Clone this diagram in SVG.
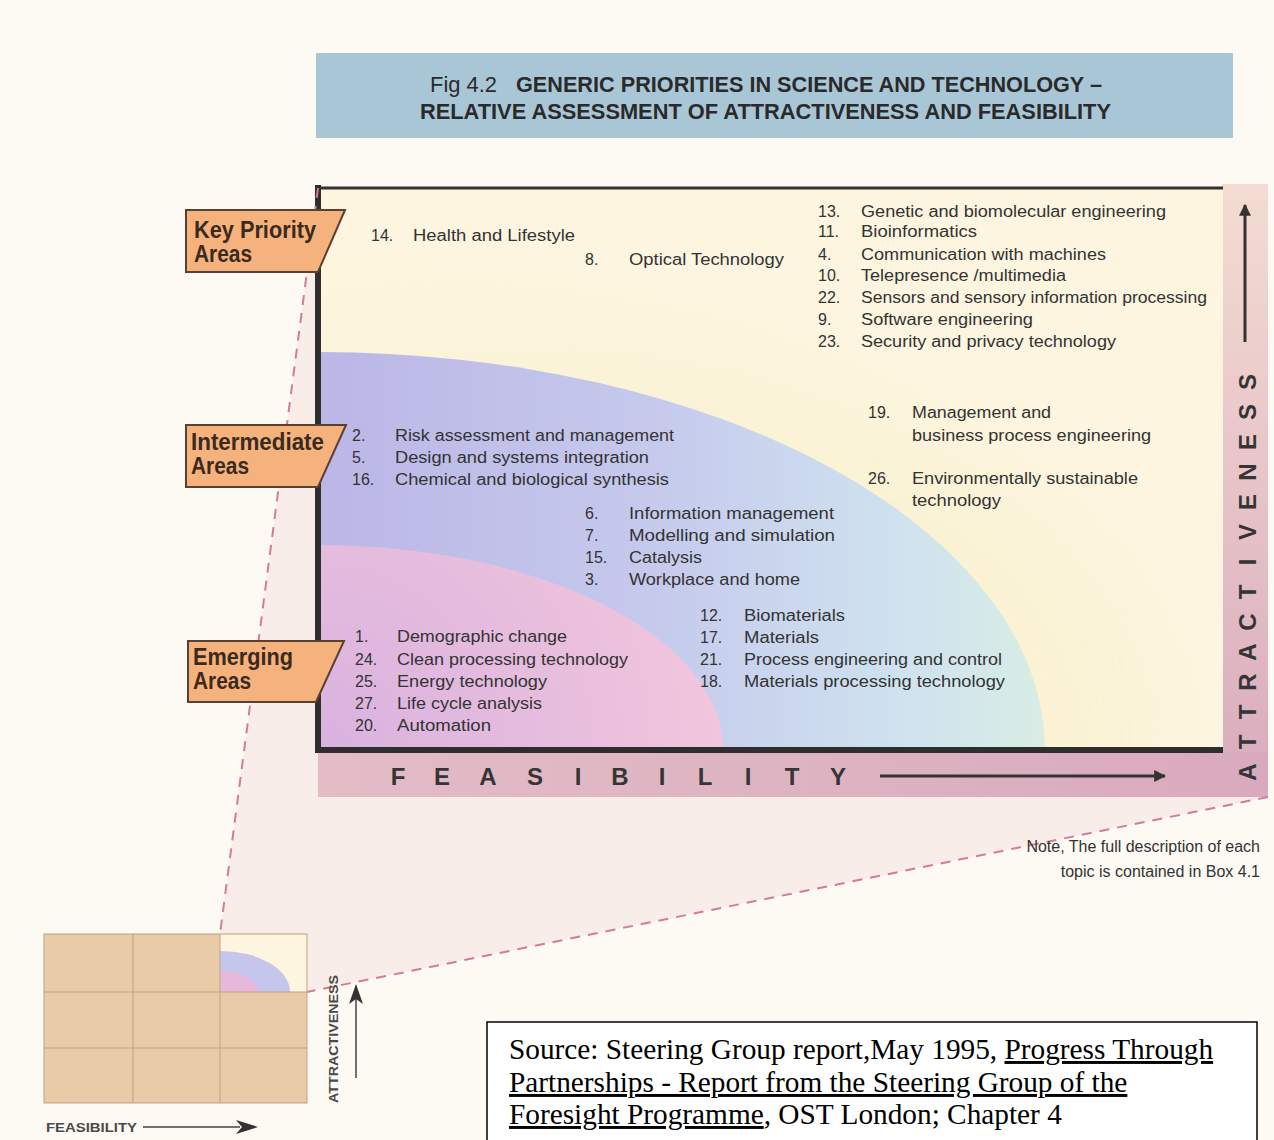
<svg xmlns="http://www.w3.org/2000/svg" width="1274" height="1140" viewBox="0 0 1274 1140">
<style>
.it{font-family:"Liberation Sans",Arial,sans-serif;font-size:16px;fill:#333}
.lb{font-family:"Liberation Sans",Arial,sans-serif;font-size:23px;font-weight:bold;fill:#3b2a1e}
.ax{font-family:"Liberation Sans",Arial,sans-serif;font-size:24px;font-weight:bold;fill:#353535}
.sm{font-family:"Liberation Sans",Arial,sans-serif;font-size:12px;font-weight:bold;fill:#4a4a4a}
.src{font-family:"Liberation Serif","Times New Roman",serif;font-size:29.3px;fill:#000}
.tag{fill:#f5b27c;stroke:#5a4030;stroke-width:2}
.dash{fill:none;stroke:#d47a9c;stroke-width:2;stroke-dasharray:10 8}
.arr{stroke:#333;stroke-width:3;fill:none}
</style>
<defs>
<marker id="ah" viewBox="0 0 10 10" refX="9" refY="5" markerWidth="4" markerHeight="4" orient="auto" markerUnits="strokeWidth">
<path d="M0,0 L10,5 L0,10 z" fill="#333"/>
</marker>
<linearGradient id="blueG" x1="318" y1="0" x2="1045" y2="0" gradientUnits="userSpaceOnUse">
<stop offset="0" stop-color="#bbb6e6"/>
<stop offset="0.45" stop-color="#c5c9ec"/>
<stop offset="0.8" stop-color="#cfe2ef"/>
<stop offset="1" stop-color="#d9ede4"/>
</linearGradient>
<radialGradient id="pinkG" cx="318" cy="750" r="420" gradientUnits="userSpaceOnUse">
<stop offset="0" stop-color="#d8b2e0"/>
<stop offset="1" stop-color="#f3c6dc"/>
</radialGradient>
<radialGradient id="haloG" cx="0.5" cy="0.5" r="0.5">
<stop offset="0.8" stop-color="#f6eec0" stop-opacity="0.5"/>
<stop offset="1" stop-color="#f6eec0" stop-opacity="0"/>
</radialGradient>
<linearGradient id="haloMask" x1="318" y1="0" x2="1223" y2="0" gradientUnits="userSpaceOnUse">
<stop offset="0" stop-color="#fff" stop-opacity="0.2"/>
<stop offset="1" stop-color="#fff" stop-opacity="1"/>
</linearGradient>
<mask id="hm"><rect x="318" y="188" width="905" height="562" fill="url(#haloMask)"/></mask>
<linearGradient id="bandR" x1="0" y1="184" x2="0" y2="797" gradientUnits="userSpaceOnUse">
<stop offset="0" stop-color="#f4dcd2"/>
<stop offset="1" stop-color="#d9abbd"/>
</linearGradient>
<linearGradient id="bandB" x1="318" y1="0" x2="1268" y2="0" gradientUnits="userSpaceOnUse">
<stop offset="0" stop-color="#e3bcc6"/>
<stop offset="1" stop-color="#d9aabd"/>
</linearGradient>
<clipPath id="chartClip"><rect x="318" y="188" width="905" height="562"/></clipPath>
<clipPath id="miniClip"><rect x="220" y="934" width="87" height="58"/></clipPath>
</defs>

<rect width="1274" height="1140" fill="#fdfaf4"/>

<!-- projection cone fill -->
<polygon points="220,934 318,188 1268,188 1268,797 307,992 220,992" fill="#f4e0d6" opacity="0.45"/>

<!-- title -->
<g id="title">
<rect x="316" y="53" width="917" height="85" fill="#a9c6d6"/>
<text x="430" y="92" font-family="Liberation Sans, Arial, sans-serif" font-size="22" fill="#2a2a2a" textLength="67" lengthAdjust="spacingAndGlyphs">Fig 4.2</text>
<text x="516" y="92" font-family="Liberation Sans, Arial, sans-serif" font-size="22" font-weight="bold" fill="#2a2a2a" textLength="586" lengthAdjust="spacingAndGlyphs">GENERIC PRIORITIES IN SCIENCE AND TECHNOLOGY –</text>
<text x="420" y="119" font-family="Liberation Sans, Arial, sans-serif" font-size="22" font-weight="bold" fill="#2a2a2a" textLength="691" lengthAdjust="spacingAndGlyphs">RELATIVE ASSESSMENT OF ATTRACTIVENESS AND FEASIBILITY</text>
</g>

<!-- chart -->
<g id="chart">
<rect x="1222" y="184" width="46" height="613" fill="url(#bandR)"/>
<rect x="318" y="752" width="950" height="45" fill="url(#bandB)"/>
<rect x="318" y="188" width="905" height="562" fill="#fdf5df"/>
<g clip-path="url(#chartClip)">
<ellipse cx="318" cy="750" rx="900" ry="500" fill="url(#haloG)" mask="url(#hm)"/>
<ellipse cx="318" cy="750" rx="727" ry="398" fill="url(#blueG)"/>
<ellipse cx="318" cy="750" rx="405" ry="205" fill="url(#pinkG)"/>
</g>
<line x1="318" y1="188" x2="1223" y2="188" stroke="#333" stroke-width="3"/>
<line x1="318" y1="185" x2="318" y2="753" stroke="#2e2e2e" stroke-width="6"/>
<line x1="315" y1="750" x2="1223" y2="750" stroke="#2e2e2e" stroke-width="6"/>
</g>

<!-- axis labels -->
<g id="feasibility-axis">
<text class="ax" y="785" text-anchor="middle" x="398 442 488 535 578 620 662 705 748 792 838">FEASIBILITY</text>
<line class="arr" x1="880" y1="776" x2="1165" y2="776" marker-end="url(#ah)"/>
</g>
<g id="attractiveness-axis">
<text class="ax" transform="rotate(-90)" y="1256" text-anchor="middle" x="-772 -742 -712 -682 -652 -622 -592 -562 -532 -502 -472 -442 -412 -382">ATTRACTIVENESS</text>
<line class="arr" x1="1245" y1="342" x2="1245" y2="205" marker-end="url(#ah)"/>
</g>

<!-- connectors (projection lines) -->
<g id="connectors">
<line class="dash" x1="318" y1="188" x2="220" y2="934"/>
<line class="dash" x1="1268" y1="797" x2="307" y2="992"/>
</g>

<!-- category labels -->
<g id="key-priority">
<polygon class="tag" points="186,210 345,210 318,272 186,272"/>
<text class="lb" x="194" y="238" textLength="122" lengthAdjust="spacingAndGlyphs">Key Priority</text>
<text class="lb" x="194" y="262" textLength="58" lengthAdjust="spacingAndGlyphs">Areas</text>
</g>
<g id="intermediate">
<polygon class="tag" points="186,425 346,425 318,487 186,487"/>
<text class="lb" x="191" y="450" textLength="133" lengthAdjust="spacingAndGlyphs">Intermediate</text>
<text class="lb" x="191" y="474" textLength="58" lengthAdjust="spacingAndGlyphs">Areas</text>
</g>
<g id="emerging">
<polygon class="tag" points="188,641 344,641 316,702 188,702"/>
<text class="lb" x="193" y="665" textLength="100" lengthAdjust="spacingAndGlyphs">Emerging</text>
<text class="lb" x="193" y="689" textLength="58" lengthAdjust="spacingAndGlyphs">Areas</text>
</g>

<!-- items -->
<g id="items-key">
<text class="it" x="371" y="241">14.</text><text class="it" x="413" y="241" textLength="162" lengthAdjust="spacingAndGlyphs">Health and Lifestyle</text>
<text class="it" x="585" y="265">8.</text><text class="it" x="629" y="265" textLength="155" lengthAdjust="spacingAndGlyphs">Optical Technology</text>
<text class="it" x="818" y="217">13.</text><text class="it" x="861" y="217" textLength="305" lengthAdjust="spacingAndGlyphs">Genetic and biomolecular engineering</text>
<text class="it" x="818" y="237">11.</text><text class="it" x="861" y="237" textLength="116" lengthAdjust="spacingAndGlyphs">Bioinformatics</text>
<text class="it" x="818" y="260">4.</text><text class="it" x="861" y="260" textLength="245" lengthAdjust="spacingAndGlyphs">Communication with machines</text>
<text class="it" x="818" y="281">10.</text><text class="it" x="861" y="281" textLength="205" lengthAdjust="spacingAndGlyphs">Telepresence /multimedia</text>
<text class="it" x="818" y="303">22.</text><text class="it" x="861" y="303" textLength="346" lengthAdjust="spacingAndGlyphs">Sensors and sensory information processing</text>
<text class="it" x="818" y="325">9.</text><text class="it" x="861" y="325" textLength="172" lengthAdjust="spacingAndGlyphs">Software engineering</text>
<text class="it" x="818" y="347">23.</text><text class="it" x="861" y="347" textLength="255" lengthAdjust="spacingAndGlyphs">Security and privacy technology</text>
<text class="it" x="868" y="418">19.</text><text class="it" x="912" y="418" textLength="139" lengthAdjust="spacingAndGlyphs">Management and</text>
<text class="it" x="912" y="441" textLength="239" lengthAdjust="spacingAndGlyphs">business process engineering</text>
<text class="it" x="868" y="484">26.</text><text class="it" x="912" y="484" textLength="226" lengthAdjust="spacingAndGlyphs">Environmentally sustainable</text>
<text class="it" x="912" y="506" textLength="89" lengthAdjust="spacingAndGlyphs">technology</text>
</g>
<g id="items-intermediate">
<text class="it" x="352" y="441">2.</text><text class="it" x="395" y="441" textLength="279" lengthAdjust="spacingAndGlyphs">Risk assessment and management</text>
<text class="it" x="352" y="463">5.</text><text class="it" x="395" y="463" textLength="254" lengthAdjust="spacingAndGlyphs">Design and systems integration</text>
<text class="it" x="352" y="485">16.</text><text class="it" x="395" y="485" textLength="274" lengthAdjust="spacingAndGlyphs">Chemical and biological synthesis</text>
<text class="it" x="585" y="519">6.</text><text class="it" x="629" y="519" textLength="205" lengthAdjust="spacingAndGlyphs">Information management</text>
<text class="it" x="585" y="541">7.</text><text class="it" x="629" y="541" textLength="206" lengthAdjust="spacingAndGlyphs">Modelling and simulation</text>
<text class="it" x="585" y="563">15.</text><text class="it" x="629" y="563" textLength="73" lengthAdjust="spacingAndGlyphs">Catalysis</text>
<text class="it" x="585" y="585">3.</text><text class="it" x="629" y="585" textLength="171" lengthAdjust="spacingAndGlyphs">Workplace and home</text>
<text class="it" x="700" y="621">12.</text><text class="it" x="744" y="621" textLength="101" lengthAdjust="spacingAndGlyphs">Biomaterials</text>
<text class="it" x="700" y="643">17.</text><text class="it" x="744" y="643" textLength="75" lengthAdjust="spacingAndGlyphs">Materials</text>
<text class="it" x="700" y="665">21.</text><text class="it" x="744" y="665" textLength="258" lengthAdjust="spacingAndGlyphs">Process engineering and control</text>
<text class="it" x="700" y="687">18.</text><text class="it" x="744" y="687" textLength="261" lengthAdjust="spacingAndGlyphs">Materials processing technology</text>
</g>
<g id="items-emerging">
<text class="it" x="355" y="642">1.</text><text class="it" x="397" y="642" textLength="170" lengthAdjust="spacingAndGlyphs">Demographic change</text>
<text class="it" x="355" y="665">24.</text><text class="it" x="397" y="665" textLength="231" lengthAdjust="spacingAndGlyphs">Clean processing technology</text>
<text class="it" x="355" y="687">25.</text><text class="it" x="397" y="687" textLength="150" lengthAdjust="spacingAndGlyphs">Energy technology</text>
<text class="it" x="355" y="709">27.</text><text class="it" x="397" y="709" textLength="145" lengthAdjust="spacingAndGlyphs">Life cycle analysis</text>
<text class="it" x="355" y="731">20.</text><text class="it" x="397" y="731" textLength="94" lengthAdjust="spacingAndGlyphs">Automation</text>
</g>

<!-- note -->
<g id="note">
<text class="it" x="1260" y="852" text-anchor="end" font-size="15">Note, The full description of each</text>
<text class="it" x="1260" y="877" text-anchor="end" font-size="15">topic is contained in Box 4.1</text>
</g>

<!-- inset grid -->
<g id="inset">
<rect x="44" y="934" width="263" height="169" fill="#e9cba7"/>
<rect x="220" y="934" width="87" height="58" fill="#fdf5df"/>
<g clip-path="url(#miniClip)">
<ellipse cx="220" cy="992" rx="70" ry="41" fill="#c4c6ec"/>
<ellipse cx="220" cy="992" rx="39" ry="21" fill="#e8b8dc"/>
</g>
<g stroke="#bfa183" stroke-width="1" fill="none">
<rect x="44" y="934" width="263" height="169"/>
<line x1="133" y1="934" x2="133" y2="1103"/>
<line x1="220" y1="934" x2="220" y2="1103"/>
<line x1="44" y1="992" x2="307" y2="992"/>
<line x1="44" y1="1048" x2="307" y2="1048"/>
</g>
<text class="sm" transform="translate(338,1039) rotate(-90)" text-anchor="middle" textLength="128" lengthAdjust="spacingAndGlyphs">ATTRACTIVENESS</text>
<line x1="356" y1="1078" x2="356" y2="986" stroke="#444" stroke-width="1.5"/>
<path d="M356,984 L349,1004 L356,999 L363,1004 z" fill="#333"/>
<text class="sm" x="46" y="1132" textLength="91" lengthAdjust="spacingAndGlyphs">FEASIBILITY</text>
<line x1="143" y1="1127" x2="240" y2="1127" stroke="#444" stroke-width="1.5"/>
<path d="M258,1127 L236,1120 L242,1127 L236,1134 z" fill="#333"/>
</g>

<!-- source box -->
<g id="source">
<rect x="487" y="1022" width="770" height="130" fill="#ffffff" stroke="#000" stroke-width="1.5"/>
<text class="src" x="509" y="1059">Source: Steering Group report,May 1995, <tspan text-decoration="underline">Progress Through</tspan></text>
<text class="src" x="509" y="1092" text-decoration="underline">Partnerships - Report from the Steering Group of the</text>
<text class="src" x="509" y="1124"><tspan text-decoration="underline">Foresight Programme</tspan>, OST London; Chapter 4</text>
</g>
</svg>
